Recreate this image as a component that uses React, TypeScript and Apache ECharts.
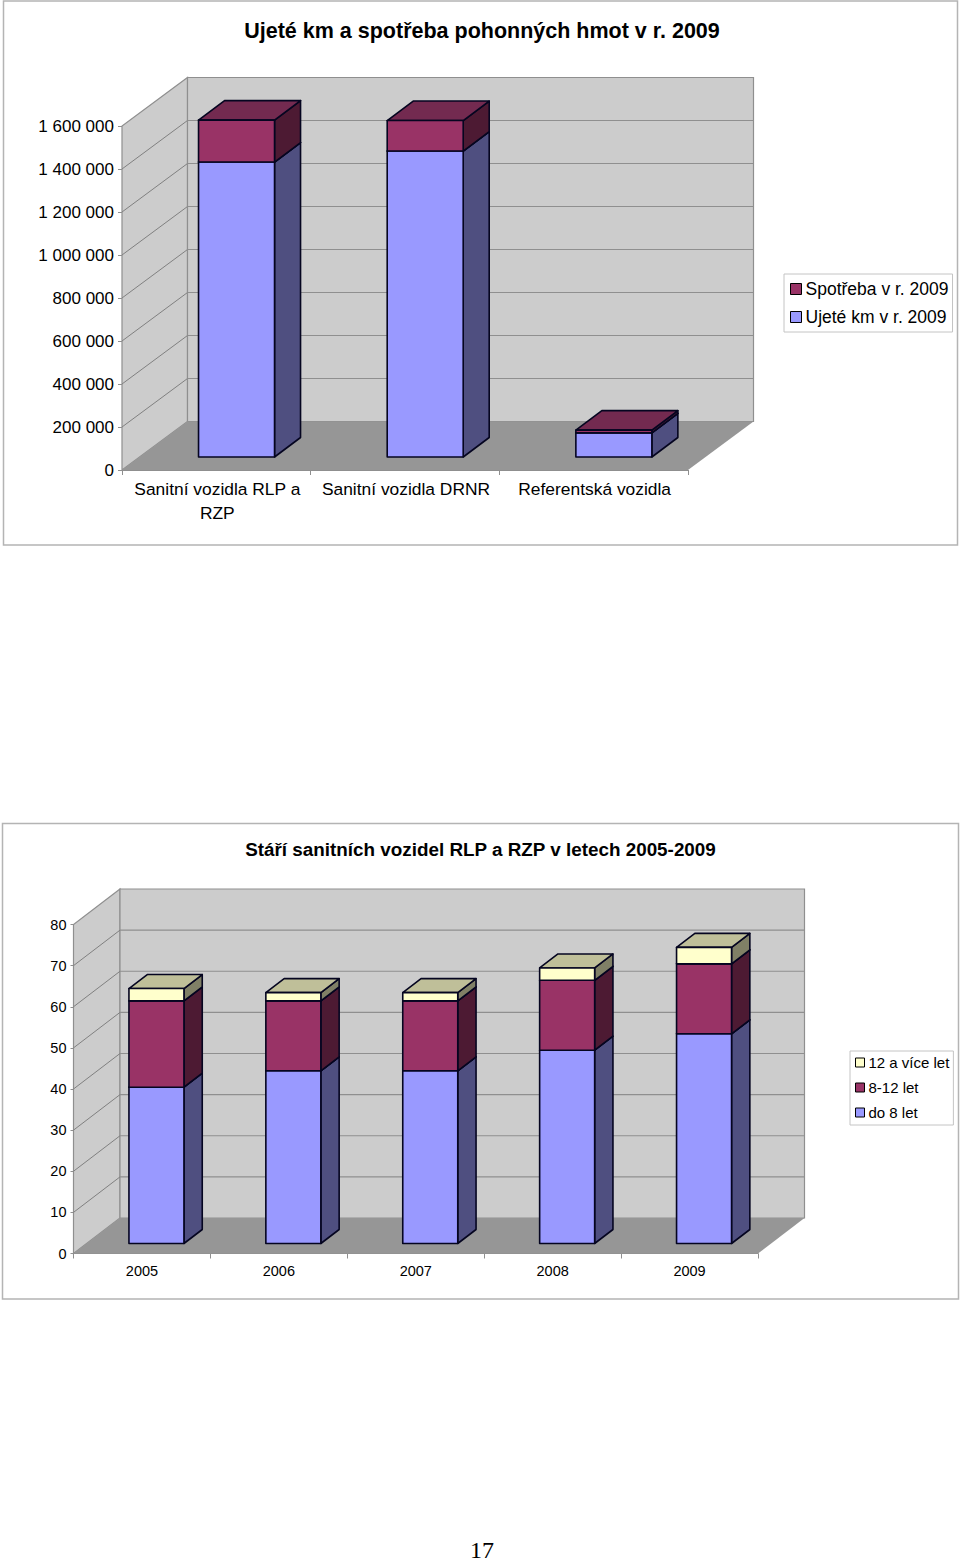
import React, { useEffect, useRef } from "react";
import * as echarts from "echarts";

const kmCategories = ["Sanitní vozidla RLP a\nRZP", "Sanitní vozidla DRNR", "Referentská vozidla"];
const kmTicks = [0, 200000, 400000, 600000, 800000, 1000000, 1200000, 1400000, 1600000];
const ujeteKm = [1372000, 1423000, 112000];
const spotreba = [195000, 142000, 13000];

const ageCategories = ["2005", "2006", "2007", "2008", "2009"];
const ageTicks = [0, 10, 20, 30, 40, 50, 60, 70, 80];
const do8 = [38, 42, 42, 47, 51];
const od8do12 = [21, 17, 17, 17, 17];
const nad12 = [3, 2, 2, 3, 4];

const FONT = "Liberation Sans";
const BLUE = { front: "#9999FF", side: "#4F4F80", top: "#7373BF" };
const RED = { front: "#993366", side: "#4D1A33", top: "#732A50" };
const CREAM = { front: "#FFFFCC", side: "#808066", top: "#BFBF99" };

type Box = { wallDx: number; wallDy: number; barDx: number; barDy: number; depthX: number; depthY: number; barW: number };
const BOX1: Box = { wallDx: 65.5, wallDy: 48.5, barDx: 20.2, barDy: 13, depthX: 26, depthY: 19.5, barW: 76 };
const BOX2: Box = { wallDx: 46.5, wallDy: 35.5, barDx: 14.5, barDy: 10, depthX: 18.3, depthY: 14, barW: 55 };

function wallSeries(ticks: number[], box: Box, axis: number) {
  return {
    type: "custom",
    xAxisIndex: axis,
    yAxisIndex: axis,
    silent: true,
    clip: false,
    z: 2,
    data: ticks.map((t) => [0, t]),
    encode: { x: 0, y: 1 },
    renderItem(params: any, api: any) {
      const cs = params.coordSys;
      const x0 = cs.x;
      const x1 = cs.x + cs.width;
      const yTop = cs.y;
      const yBase = cs.y + cs.height;
      const { wallDx: dx, wallDy: dy } = box;
      const y = api.coord([0, api.value(1)])[1];
      const children: any[] = [];
      const wallStyle = { fill: "#CCCCCC", stroke: "#8F8F8F", lineWidth: 1.2 };
      if (params.dataIndex === 0) {
        children.push({
          type: "polygon",
          shape: { points: [[x0, yBase], [x0 + dx, yBase - dy], [x0 + dx, yTop - dy], [x0, yTop]] },
          style: wallStyle,
        });
        children.push({
          type: "rect",
          shape: { x: x0 + dx, y: yTop - dy, width: cs.width, height: cs.height },
          style: wallStyle,
        });
        children.push({
          type: "polygon",
          shape: { points: [[x0, yBase], [x1, yBase], [x1 + dx, yBase - dy], [x0 + dx, yBase - dy]] },
          style: { fill: "#969696" },
        });
      } else if (api.value(1) !== ticks[ticks.length - 1]) {
        children.push({
          type: "line",
          shape: { x1: x0, y1: y, x2: x0 + dx, y2: y - dy },
          style: { stroke: "#808080", lineWidth: 1 },
        });
        children.push({
          type: "line",
          shape: { x1: x0 + dx, y1: y - dy, x2: x1 + dx, y2: y - dy },
          style: { stroke: "#8F8F8F", lineWidth: 1.2 },
        });
      }
      return { type: "group", children };
    },
  };
}

function barSeries(name: string, base: number[], values: number[], col: typeof BLUE, box: Box, axis: number) {
  return {
    type: "custom",
    name,
    xAxisIndex: axis,
    yAxisIndex: axis,
    clip: false,
    z: 3,
    itemStyle: { color: col.front },
    data: values.map((v, i) => [i, base[i], base[i] + v]),
    encode: { x: 0, y: [1, 2] },
    renderItem(_params: any, api: any) {
      const a = api.coord([api.value(0), api.value(1)]);
      const b = api.coord([api.value(0), api.value(2)]);
      const l = a[0] + box.barDx - box.barW / 2;
      const r = l + box.barW;
      const yB = a[1] - box.barDy;
      const yT = b[1] - box.barDy;
      const dx = box.depthX;
      const dy = box.depthY;
      const stroke = { stroke: "#050520", lineWidth: 1.6, lineJoin: "round" };
      return {
        type: "group",
        children: [
          {
            type: "polygon",
            shape: { points: [[r, yB], [r + dx, yB - dy], [r + dx, yT - dy], [r, yT]] },
            style: { fill: col.side, ...stroke },
          },
          {
            type: "polygon",
            shape: { points: [[l, yT], [r, yT], [r + dx, yT - dy], [l + dx, yT - dy]] },
            style: { fill: col.top, ...stroke },
          },
          {
            type: "rect",
            shape: { x: l, y: yT, width: box.barW, height: yB - yT },
            style: { fill: col.front, ...stroke },
          },
        ],
      };
    },
  };
}

const thousands = (v: number) => String(v).replace(/\B(?=(\d{3})+$)/g, " ");
const add = (a: number[], b: number[]) => a.map((v, i) => v + b[i]);

function buildOption() {
  const zero1 = kmCategories.map(() => 0);
  const zero2 = ageCategories.map(() => 0);
  const axisGray = { lineStyle: { color: "#8F8F8F", width: 1 } };
  return {
    animation: false,
    backgroundColor: "#FFFFFF",
    title: [
      {
        text: "Ujeté km a spotřeba pohonných hmot v r. 2009",
        left: 477,
        top: 15,
        textAlign: "center",
        textStyle: { fontFamily: FONT, fontSize: 21.5, fontWeight: "bold", color: "#000" },
      },
      {
        text: "Stáří sanitních vozidel RLP a RZP v letech 2005-2009",
        left: 475.5,
        top: 835,
        textAlign: "center",
        textStyle: { fontFamily: FONT, fontSize: 18.85, fontWeight: "bold", color: "#000" },
      },
    ],
    grid: [
      { left: 122, width: 566, top: 126, height: 344 },
      { left: 73.5, width: 684.5, top: 924.5, height: 329 },
    ],
    xAxis: [
      {
        type: "category",
        gridIndex: 0,
        data: kmCategories,
        axisLine: axisGray,
        axisTick: { show: true, length: 5, ...axisGray },
        axisLabel: {
          interval: 0,
          margin: 7,
          lineHeight: 24,
          fontFamily: FONT,
          fontSize: 17.4,
          color: "#000",
          padding: [0, 0, 0, 2],
        },
      },
      {
        type: "category",
        gridIndex: 1,
        data: ageCategories,
        axisLine: axisGray,
        axisTick: { show: true, length: 5, ...axisGray },
        axisLabel: { interval: 0, margin: 10, fontFamily: FONT, fontSize: 14.5, color: "#000" },
      },
    ],
    yAxis: [
      {
        type: "value",
        gridIndex: 0,
        min: kmTicks[0],
        max: kmTicks[kmTicks.length - 1],
        interval: kmTicks[1] - kmTicks[0],
        splitLine: { show: false },
        axisLine: { show: true, ...axisGray },
        axisTick: { show: true, length: 4, ...axisGray },
        axisLabel: { margin: 8, formatter: thousands, fontFamily: FONT, fontSize: 17, color: "#000" },
      },
      {
        type: "value",
        gridIndex: 1,
        min: ageTicks[0],
        max: ageTicks[ageTicks.length - 1],
        interval: ageTicks[1] - ageTicks[0],
        splitLine: { show: false },
        axisLine: { show: true, ...axisGray },
        axisTick: { show: true, length: 3, ...axisGray },
        axisLabel: { margin: 7, fontFamily: FONT, fontSize: 14.5, color: "#000" },
      },
    ],
    legend: [
      {
        orient: "vertical",
        left: 784,
        top: 274,
        padding: [5, 4, 5, 6],
        itemWidth: 11,
        itemHeight: 11,
        itemGap: 8,
        icon: "rect",
        selectedMode: false,
        borderColor: "#C4C4C4",
        borderWidth: 1,
        data: ["Spotřeba v r. 2009", "Ujeté km v r. 2009"],
        itemStyle: { borderColor: "#000", borderWidth: 1 },
        textStyle: { fontFamily: FONT, fontSize: 17.5, color: "#000", lineHeight: 20, padding: [0, 0, 0, -1] },
      },
      {
        orient: "vertical",
        left: 850,
        top: 1051,
        padding: [3, 4, 4, 5],
        itemWidth: 9,
        itemHeight: 9,
        itemGap: 8,
        icon: "rect",
        selectedMode: false,
        borderColor: "#C4C4C4",
        borderWidth: 1,
        data: ["12 a více let", "8-12 let", "do 8 let"],
        itemStyle: { borderColor: "#000", borderWidth: 1 },
        textStyle: { fontFamily: FONT, fontSize: 15, color: "#000", lineHeight: 17, padding: [0, 0, 0, -1] },
      },
    ],
    graphic: [
      {
        type: "rect",
        z: -1,
        shape: { x: 3.5, y: 1, width: 954, height: 544 },
        style: { fill: "#FFFFFF", stroke: "#B4B4B4", lineWidth: 1.5 },
      },
      {
        type: "rect",
        z: -1,
        shape: { x: 2.5, y: 823.5, width: 956, height: 475.5 },
        style: { fill: "#FFFFFF", stroke: "#B4B4B4", lineWidth: 1.5 },
      },
      {
        type: "text",
        x: 482,
        y: 1550,
        style: {
          text: "17",
          fontFamily: "Liberation Serif",
          fontSize: 24,
          fill: "#000",
          align: "center",
          verticalAlign: "middle",
        },
      },
    ],
    series: [
      wallSeries(kmTicks, BOX1, 0),
      barSeries("Ujeté km v r. 2009", zero1, ujeteKm, BLUE, BOX1, 0),
      barSeries("Spotřeba v r. 2009", ujeteKm, spotreba, RED, BOX1, 0),
      wallSeries(ageTicks, BOX2, 1),
      barSeries("do 8 let", zero2, do8, BLUE, BOX2, 1),
      barSeries("8-12 let", do8, od8do12, RED, BOX2, 1),
      barSeries("12 a více let", add(do8, od8do12), nad12, CREAM, BOX2, 1),
    ],
  };
}

export default function App() {
  const ref = useRef<HTMLDivElement>(null);
  useEffect(() => {
    const chart = echarts.init(ref.current!, undefined, { renderer: "svg" });
    chart.setOption(buildOption() as any);
    return () => chart.dispose();
  }, []);
  return <div ref={ref} style={{ position: "absolute", left: 0, top: 0, width: 960, height: 1562 }} />;
}
